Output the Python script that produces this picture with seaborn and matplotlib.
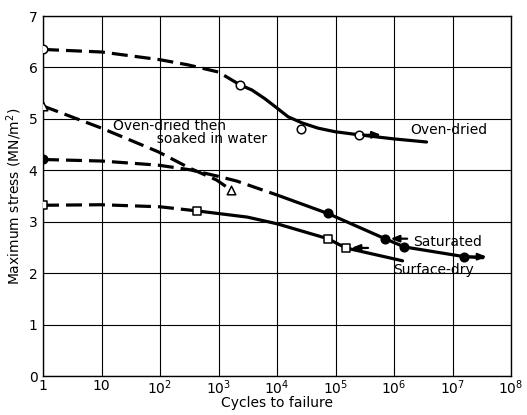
import numpy as np
import pandas as pd
import matplotlib
matplotlib.use("Agg")
import matplotlib.pyplot as plt
from matplotlib.transforms import offset_copy
import seaborn as sns

# ---------------- data ----------------
# Oven-dried
oven_dash_x = [1, 10, 100, 300, 1000, 2340]
oven_dash_y = [6.35, 6.30, 6.15, 6.05, 5.91, 5.66]
oven_solid_x = [2340, 3740, 6240, 1e4, 1.55e4, 2.7e4, 5e4, 9.8e4, 2.5e5, 1e6, 3.6e6]
oven_solid_y = [5.66, 5.56, 5.39, 5.21, 5.04, 4.92, 4.82, 4.75, 4.69, 4.61, 4.55]
oven_pts_x = [1, 2340, 2.6e4, 2.5e5]
oven_pts_y = [6.35, 5.66, 4.80, 4.69]

# Oven-dried then soaked in water
soak_dash_x = [1, 10, 93, 325, 930, 1620]
soak_dash_y = [5.25, 4.82, 4.36, 4.04, 3.81, 3.62]
soak_pts_x = [1, 1620]
soak_pts_y = [5.25, 3.62]

# Saturated
sat_dash_x = [1, 10, 93, 325, 930, 2060, 1e4]
sat_dash_y = [4.21, 4.18, 4.10, 4.01, 3.89, 3.79, 3.52]
sat_solid_x = [1e4, 7.4e4, 7e5, 1.5e6, 1.6e7, 3.3e7]
sat_solid_y = [3.52, 3.16, 2.67, 2.51, 2.32, 2.30]
sat_pts_x = [1, 7.4e4, 7e5, 1.5e6, 1.6e7]
sat_pts_y = [4.21, 3.16, 2.67, 2.51, 2.32]

# Surface-dry
sd_dash_x = [1, 10, 100, 430]
sd_dash_y = [3.32, 3.33, 3.29, 3.21]
sd_solid_x = [430, 3100, 1e4, 7.4e4, 1.5e5, 1.4e6]
sd_solid_y = [3.21, 3.09, 2.96, 2.67, 2.49, 2.24]
sd_pts_x = [1, 430, 7.4e4, 1.5e5]
sd_pts_y = [3.32, 3.21, 2.67, 2.49]

# run-out arrows (x, y, direction)
runout_x = [2.5e5, 7e5, 1.6e7, 1.5e5]
runout_y = [4.69, 2.67, 2.32, 2.49]
runout_dir = [1, -1, 1, -1]

x_ticks = [1, 10, 1e2, 1e3, 1e4, 1e5, 1e6, 1e7, 1e8]
x_tick_labels = ["1", "10", "10$^2$", "10$^3$", "10$^4$", "10$^5$",
                 "10$^6$", "10$^7$", "10$^8$"]
y_ticks = [0, 1, 2, 3, 4, 5, 6, 7]

# ---------------- plotting ----------------
sns.set_style("white")
plt.rcParams["font.family"] = ["DejaVu Sans"]
plt.rcParams["mathtext.fontset"] = "dejavusans"
plt.rcParams["text.color"] = "black"
plt.rcParams["axes.labelcolor"] = "black"

fig = plt.figure(figsize=(5.27, 4.15), dpi=100)
ax = fig.add_axes([43 / 527, 39 / 415, (511 - 43) / 527, (376 - 16) / 415])
ax.set_xscale("log")

LW = 2.3
DASH = (5, 2.2)


def seg(x, y, dashed):
    sns.lineplot(x=x, y=y, ax=ax, color="black", lw=LW, sort=False,
                 estimator=None,
                 linestyle=(0, DASH) if dashed else "-", zorder=3)


seg(oven_dash_x, oven_dash_y, True)
seg(oven_solid_x, oven_solid_y, False)
seg(soak_dash_x, soak_dash_y, True)
seg(sat_dash_x, sat_dash_y, True)
seg(sat_solid_x, sat_solid_y, False)
seg(sd_dash_x, sd_dash_y, True)
seg(sd_solid_x, sd_solid_y, False)


def pts(x, y, marker, filled, size=38):
    sns.scatterplot(x=x, y=y, ax=ax, marker=marker, s=size,
                    facecolor="black" if filled else "white",
                    edgecolor="black", linewidth=1.1, zorder=5)


pts(oven_pts_x, oven_pts_y, "o", False)
pts(soak_pts_x, soak_pts_y, "^", False)
pts(sat_pts_x, sat_pts_y, "o", True)
pts(sd_pts_x, sd_pts_y, "s", False)

# run-out arrows drawn relative to their data points
for x, y, d in zip(runout_x, runout_y, runout_dir):
    if d > 0:
        tail = offset_copy(ax.transData, fig=fig, x=3, y=0, units="points")
        head = offset_copy(ax.transData, fig=fig, x=16, y=0, units="points")
    else:
        tail = offset_copy(ax.transData, fig=fig, x=16, y=0, units="points")
        head = offset_copy(ax.transData, fig=fig, x=4, y=0, units="points")
    ax.annotate("", xy=(x, y), xycoords=head, xytext=(x, y), textcoords=tail,
                arrowprops=dict(arrowstyle="-|>,head_length=0.5,head_width=0.2",
                                color="black", lw=1.6, shrinkA=0, shrinkB=0),
                zorder=6)

# labels
fs = 10
ax.text(1.9e6, 4.79, "Oven-dried", fontsize=fs, ha="left", va="center")
ax.text(15.8, 4.73, "Oven-dried then\n          soaked in water", fontsize=fs,
        ha="left", va="center", linespacing=0.92)
ax.text(2.1e6, 2.61, "Saturated", fontsize=fs, ha="left", va="center")
ax.text(9.5e5, 2.06, "Surface-dry", fontsize=fs, ha="left", va="center")

ax.set_xlim(1, 1e8)
ax.set_ylim(0, 7)
ax.set_xticks(x_ticks)
ax.set_xticklabels(x_tick_labels)
ax.xaxis.set_minor_locator(matplotlib.ticker.NullLocator())
ax.set_yticks(y_ticks)
ax.tick_params(axis="both", length=0, labelsize=fs, colors="black")
ax.tick_params(axis="x", pad=2)
ax.tick_params(axis="y", pad=4)
ax.grid(True, which="major", color="black", lw=0.8)
ax.set_axisbelow(True)
for s in ax.spines.values():
    s.set_color("black")
    s.set_linewidth(1.0)

ax.set_xlabel("Cycles to failure", fontsize=fs, labelpad=-1)
ax.set_ylabel("Maximum stress (MN/m$^2$)", fontsize=fs, labelpad=3)

fig.savefig("out.png", dpi=100)
